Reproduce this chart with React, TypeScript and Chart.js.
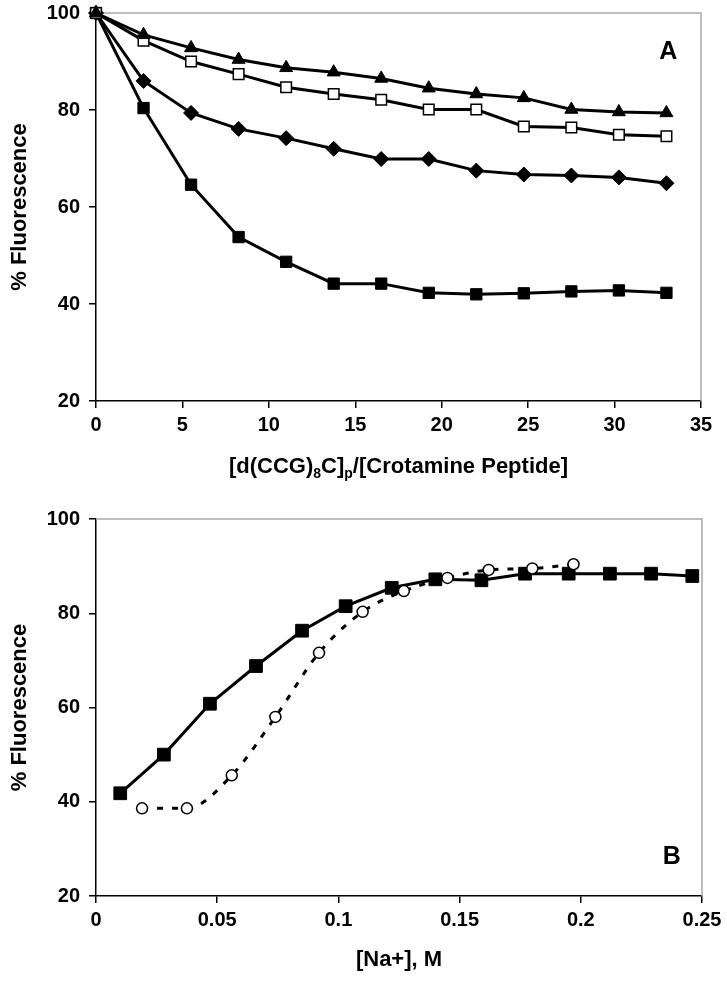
import React, { useEffect, useRef } from 'react';
import { Chart, registerables } from 'chart.js';

Chart.register(...registerables);

// ---------- Panel A data ----------
const ratioX = [0, 2.75, 5.5, 8.25, 11, 13.75, 16.5, 19.25, 22, 24.75, 27.5, 30.25, 33];
const triangleSeries = [100, 95.5, 92.8, 90.4, 88.7, 87.8, 86.5, 84.5, 83.3, 82.5, 80.1, 79.6, 79.4];
const openSquareSeries = [100, 94.3, 90.0, 87.4, 84.7, 83.3, 82.1, 80.1, 80.1, 76.6, 76.4, 74.9, 74.6];
const diamondSeries = [100, 86.0, 79.4, 76.1, 74.2, 72.0, 69.9, 69.9, 67.5, 66.7, 66.5, 66.1, 64.9];
const filledSquareSeries = [100, 80.4, 64.6, 53.8, 48.7, 44.2, 44.2, 42.3, 42.0, 42.2, 42.6, 42.8, 42.3];

// ---------- Panel B data ----------
const naSquareX = [0.01, 0.028, 0.047, 0.066, 0.085, 0.103, 0.122, 0.14, 0.159, 0.177, 0.195, 0.212, 0.229, 0.246];
const naSquareY = [41.8, 50.0, 60.8, 68.8, 76.3, 81.5, 85.4, 87.2, 87.0, 88.4, 88.4, 88.4, 88.4, 87.9];
const naCircleX = [0.019, 0.0375, 0.056, 0.074, 0.092, 0.11, 0.127, 0.145, 0.162, 0.18, 0.197];
const naCircleY = [38.6, 38.6, 45.6, 58.0, 71.6, 80.3, 84.7, 87.5, 89.2, 89.5, 90.4];

const yTicks = [20, 40, 60, 80, 100];
const xTicksA = [0, 5, 10, 15, 20, 25, 30, 35];
const xTicksB = [0, 0.05, 0.1, 0.15, 0.2, 0.25];

const FONT = 'Liberation Sans, Arial, Helvetica, sans-serif';

const toPts = (xs: number[], ys: number[]) => xs.map((x, i) => ({ x, y: ys[i] }));

const framePlugin = {
  id: 'frame',
  beforeDatasetsDraw(chart: any) {
    const { ctx, chartArea: a } = chart;
    ctx.save();
    ctx.strokeStyle = '#a8a8a8';
    ctx.lineWidth = 1.5;
    ctx.beginPath();
    ctx.moveTo(a.left, a.top);
    ctx.lineTo(a.right, a.top);
    ctx.lineTo(a.right, a.bottom);
    ctx.stroke();
    ctx.restore();
  },
};

const panelLabelPlugin = {
  id: 'panelLabel',
  afterDraw(chart: any, _args: any, opts: any) {
    if (!opts || !opts.text) return;
    const { ctx, scales } = chart;
    ctx.save();
    ctx.font = `bold 25px ${FONT}`;
    ctx.fillStyle = '#000';
    ctx.textAlign = 'center';
    ctx.textBaseline = 'middle';
    ctx.fillText(opts.text, scales.x.getPixelForValue(opts.x), scales.y.getPixelForValue(opts.y));
    ctx.restore();
  },
};

const subTitlePlugin = {
  id: 'subTitle',
  afterDraw(chart: any, _args: any, opts: any) {
    if (!opts || !opts.parts) return;
    const { ctx, chartArea } = chart;
    const size = opts.size;
    const subSize = Math.round(size * 0.62);
    ctx.save();
    ctx.fillStyle = '#000';
    ctx.textBaseline = 'alphabetic';
    ctx.textAlign = 'left';
    let total = 0;
    for (const p of opts.parts) {
      ctx.font = `bold ${p.sub ? subSize : size}px ${FONT}`;
      total += ctx.measureText(p.t).width;
    }
    let x = (chartArea.left + chartArea.right) / 2 - total / 2;
    const base = opts.baseline;
    for (const p of opts.parts) {
      ctx.font = `bold ${p.sub ? subSize : size}px ${FONT}`;
      ctx.fillText(p.t, x, p.sub ? base + size * 0.22 : base);
      x += ctx.measureText(p.t).width;
    }
    ctx.restore();
  },
};

function yScale() {
  return {
    type: 'linear',
    min: 20,
    max: 100,
    afterBuildTicks: (s: any) => { s.ticks = yTicks.map((v) => ({ value: v })); },
    afterFit: (s: any) => { s.width = 96; s.paddingTop = 0; s.paddingBottom = 0; },
    border: { color: '#000', width: 1.5 },
    grid: { display: true, drawOnChartArea: false, drawTicks: true, tickLength: 7, color: '#000', lineWidth: 1.5 },
    ticks: { color: '#000', padding: 9, font: { family: FONT, size: 20, weight: 'bold' } },
    title: {
      display: true,
      text: '% Fluorescence',
      color: '#000',
      font: { family: FONT, size: 22, weight: 'bold' },
      padding: { top: 7, bottom: 0 },
    },
  };
}

function xScale(min: number, max: number, ticks: number[], height: number, title: any) {
  return {
    type: 'linear',
    min,
    max,
    afterBuildTicks: (s: any) => { s.ticks = ticks.map((v) => ({ value: v })); },
    afterFit: (s: any) => { s.height = height; },
    border: { color: '#000', width: 1.5 },
    grid: { display: true, drawOnChartArea: false, drawTicks: true, tickLength: 7, color: '#000', lineWidth: 1.5 },
    ticks: {
      color: '#000',
      padding: 5,
      maxRotation: 0,
      font: { family: FONT, size: 20, weight: 'bold' },
      callback: (v: any) => String(Number(Number(v).toFixed(3))),
    },
    title,
  };
}

function ChartCanvas({ config, width, height, top }: any) {
  const ref = useRef<HTMLCanvasElement | null>(null);
  useEffect(() => {
    if (!ref.current) return;
    const chart = new Chart(ref.current, config);
    return () => chart.destroy();
  }, []);
  return (
    <div style={{ position: 'absolute', left: 0, top, width, height }}>
      <canvas ref={ref} width={width} height={height} style={{ width, height, display: 'block' }} />
    </div>
  );
}

const lineDs = (label: string, data: any[], style: string, radius: number, filled: boolean, extra: any = {}) => ({
  label,
  data,
  borderColor: '#000',
  borderWidth: 3,
  pointStyle: style,
  pointRadius: radius,
  pointHoverRadius: radius,
  pointBackgroundColor: filled ? '#000' : '#fff',
  pointBorderColor: '#000',
  pointBorderWidth: filled ? 1 : 1.5,
  tension: 0,
  clip: false,
  fill: false,
  ...extra,
});

export default function App() {
  const configA: any = {
    type: 'line',
    data: {
      datasets: [
        lineDs('Triangles', toPts(ratioX, triangleSeries), 'triangle', 7.5, true),
        lineDs('Open squares', toPts(ratioX, openSquareSeries), 'rect', 7.5, false),
        lineDs('Diamonds', toPts(ratioX, diamondSeries), 'rectRot', 7.5, true),
        lineDs('Filled squares', toPts(ratioX, filledSquareSeries), 'rect', 8, true),
      ],
    },
    options: {
      animation: false,
      responsive: false,
      events: [],
      layout: { padding: { top: 13, right: 26, left: 0, bottom: 0 } },
      scales: {
        x: xScale(0, 35, xTicksA, 89, { display: false }),
        y: yScale(),
      },
      plugins: {
        legend: { display: false },
        tooltip: { enabled: false },
        panelLabel: { text: 'A', x: 33.1, y: 92 },
        subTitle: {
          size: 22,
          baseline: 473,
          parts: [
            { t: '[d(CCG)' },
            { t: '8', sub: true },
            { t: 'C]' },
            { t: 'p', sub: true },
            { t: '/[Crotamine Peptide]' },
          ],
        },
      },
    },
    plugins: [framePlugin, panelLabelPlugin, subTitlePlugin],
  };

  const configB: any = {
    type: 'line',
    data: {
      datasets: [
        lineDs('Open circles', toPts(naCircleX, naCircleY), 'circle', 5.5, false, {
          borderDash: [6, 9],
          borderWidth: 3,
          cubicInterpolationMode: 'monotone',
        }),
        lineDs('Filled squares', toPts(naSquareX, naSquareY), 'rect', 9, true),
      ],
    },
    options: {
      animation: false,
      responsive: false,
      events: [],
      layout: { padding: { top: 29, right: 25, left: 0, bottom: 0 } },
      scales: {
        x: xScale(0, 0.25, xTicksB, 85, {
          display: true,
          text: '[Na+], M',
          color: '#000',
          font: { family: FONT, size: 22, weight: 'bold' },
          padding: { top: 0, bottom: 8 },
        }),
        y: yScale(),
      },
      plugins: {
        legend: { display: false },
        tooltip: { enabled: false },
        panelLabel: { text: 'B', x: 0.2375, y: 28.3 },
      },
    },
    plugins: [framePlugin, panelLabelPlugin],
  };

  return (
    <div style={{ position: 'absolute', left: 0, top: 0, width: 727, height: 981, background: '#fff' }}>
      <ChartCanvas config={configA} width={727} height={490} top={0} />
      <ChartCanvas config={configB} width={727} height={491} top={490} />
    </div>
  );
}
